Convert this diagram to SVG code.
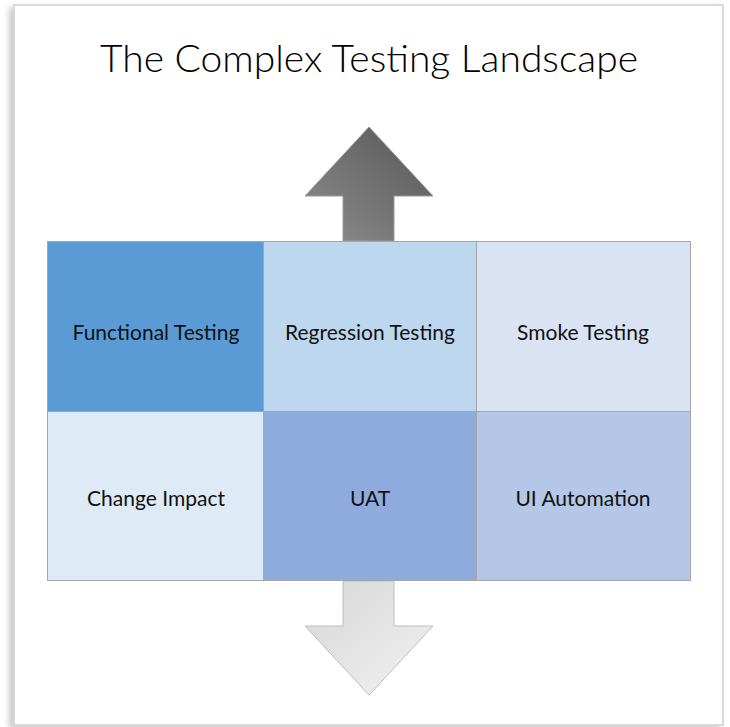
<svg xmlns="http://www.w3.org/2000/svg" width="730" height="727" viewBox="0 0 730 727">
  <defs>
    <filter id="shadow" x="-5%" y="-5%" width="110%" height="110%">
      <feDropShadow dx="-4" dy="3" stdDeviation="3" flood-color="#000" flood-opacity="0.22"/>
    </filter>
    <linearGradient id="upGrad" x1="1" y1="0" x2="0" y2="1">
      <stop offset="0" stop-color="#565656"/>
      <stop offset="1" stop-color="#8e8e8e"/>
    </linearGradient>
    <linearGradient id="downGrad" x1="0" y1="0" x2="1" y2="1">
      <stop offset="0" stop-color="#d6d6d6"/>
      <stop offset="1" stop-color="#f2f2f2"/>
    </linearGradient>
    <style>
      .cell { stroke: #a6a6a6; stroke-width: 1; }
      .lbl { font-family: "Lato", "Liberation Sans", sans-serif; font-size: 21px; fill: #111; text-anchor: middle; }
      .title { font-family: "Lato", "Liberation Sans", sans-serif; font-weight: 300; font-size: 37px; fill: #000; text-anchor: middle; }
    </style>
  </defs>

  <rect x="0" y="0" width="730" height="727" fill="#ffffff"/>
  <rect id="frame" x="14" y="5" width="709" height="720" fill="#ffffff" stroke="#cfcfcf" stroke-width="1.5" filter="url(#shadow)"/>

  <text class="title" x="369" y="72" textLength="538" lengthAdjust="spacingAndGlyphs">The Complex Testing Landscape</text>

  <g id="connectors">
    <polygon id="arrow-up" points="369,127 433,196 394,196 394,241 343,241 343,196 305,196" fill="url(#upGrad)" stroke="#9a9a9a" stroke-width="1"/>
    <polygon id="arrow-down" points="343,581 394,581 394,626 433,626 369,695 305,626 343,626" fill="url(#downGrad)" stroke="#bdbdbd" stroke-width="1"/>
  </g>

  <g id="functional-testing">
    <rect class="cell" x="47.5" y="241.5" width="216" height="170" fill="#5b9bd5"/>
    <text class="lbl" x="156" y="340">Functional Testing</text>
  </g>
  <g id="regression-testing">
    <rect class="cell" x="263.5" y="241.5" width="213" height="170" fill="#bdd7ee"/>
    <text class="lbl" x="370" y="340">Regression Testing</text>
  </g>
  <g id="smoke-testing">
    <rect class="cell" x="476.5" y="241.5" width="214" height="170" fill="#dae3f3"/>
    <text class="lbl" x="583" y="340">Smoke Testing</text>
  </g>
  <g id="change-impact">
    <rect class="cell" x="47.5" y="411.5" width="216" height="169" fill="#deebf7"/>
    <text class="lbl" x="156" y="506">Change Impact</text>
  </g>
  <g id="uat">
    <rect class="cell" x="263.5" y="411.5" width="213" height="169" fill="#8faadc"/>
    <text class="lbl" x="370" y="506">UAT</text>
  </g>
  <g id="ui-automation">
    <rect class="cell" x="476.5" y="411.5" width="214" height="169" fill="#b4c7e7"/>
    <text class="lbl" x="583" y="506">UI Automation</text>
  </g>
</svg>
